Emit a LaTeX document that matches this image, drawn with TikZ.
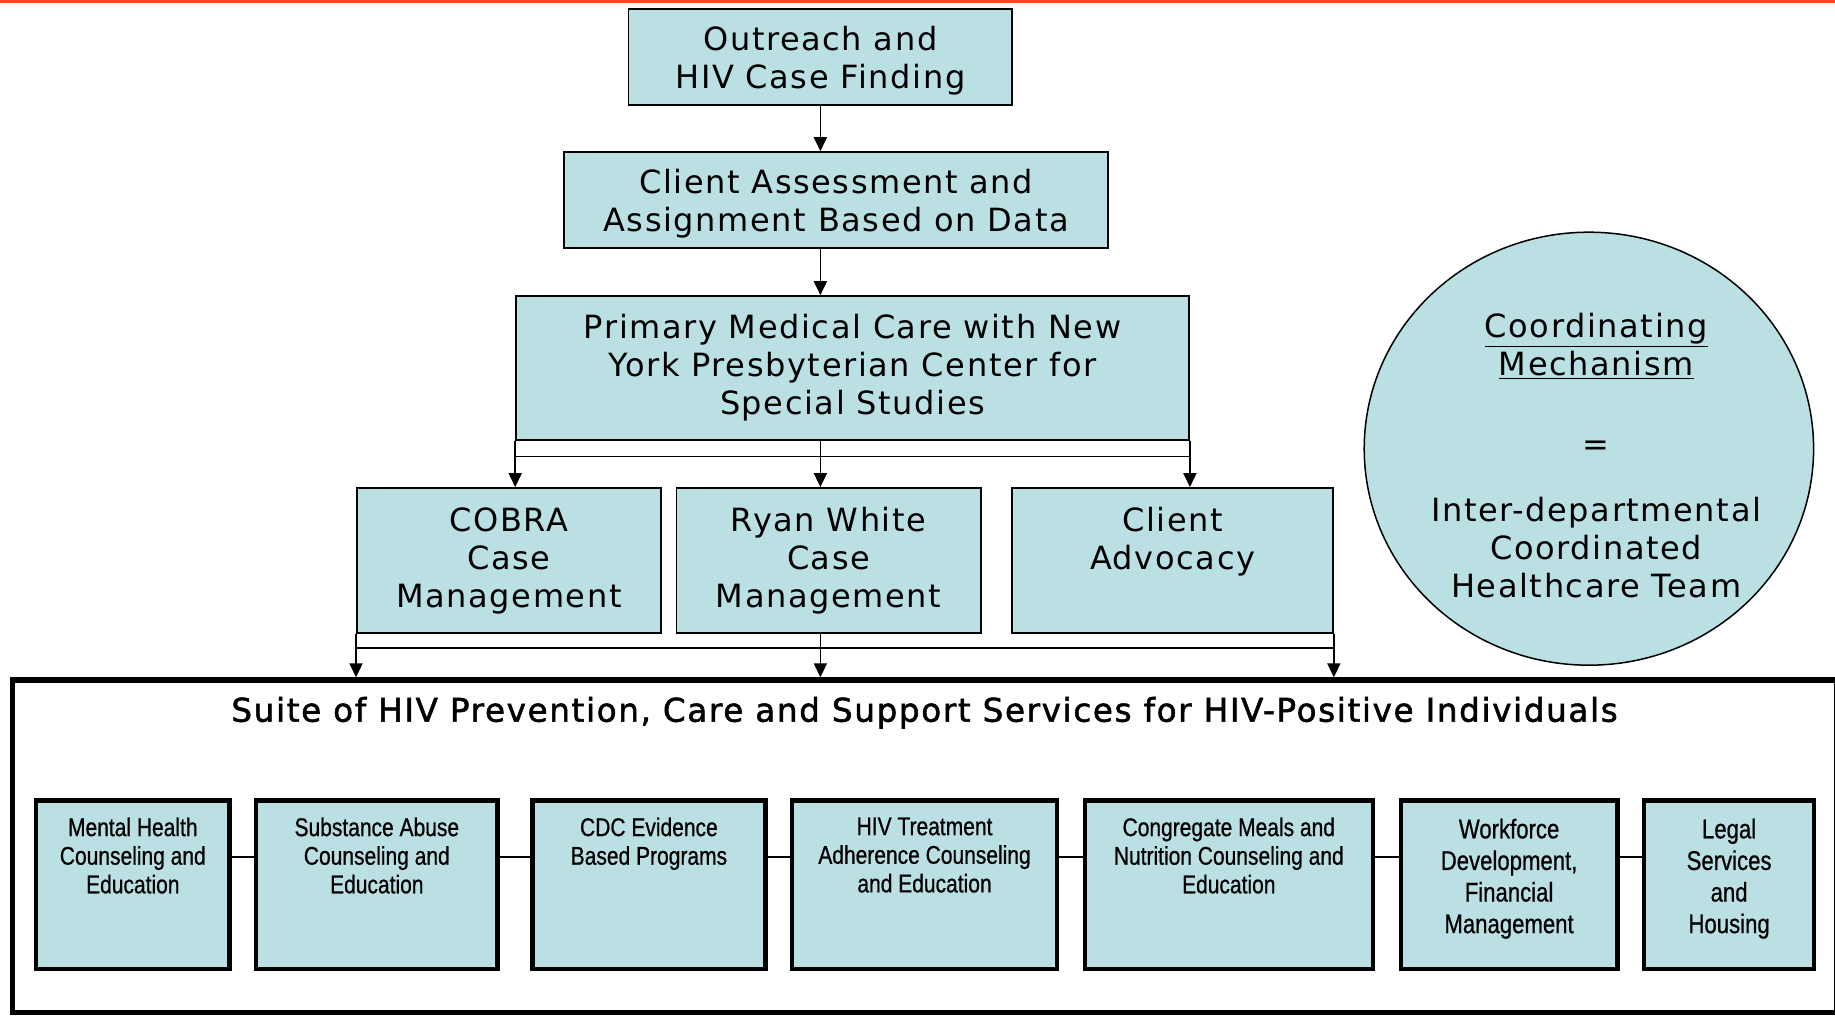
\documentclass[tikz,border=0pt]{standalone}
\usepackage{fontspec}
\newfontfamily\boxfont[LetterSpace=5]{DejaVu Sans}
\newfontfamily\titlefont[LetterSpace=5,FakeBold=1.6]{DejaVu Sans}
\newfontfamily\narrowfont[FakeStretch=0.82,FakeBold=0.7]{Liberation Sans}
\usetikzlibrary{arrows.meta,shapes.geometric}
\definecolor{boxfill}{RGB}{187,224,227}
\definecolor{topline}{RGB}{250,70,20}
\newcommand\pxu{0.585pt}

\begin{document}
\begin{tikzpicture}[x=0.585pt,y=-0.585pt,>={Triangle[length=7pt,width=6.5pt]},line width=0.85pt]
\tikzstyle{flowbox}=[draw=black,fill=boxfill,line width=0.9pt,align=center,inner sep=0pt,font=\boxfont\fontsize{16}{19}\selectfont]
\tikzstyle{svcbox}=[draw=black,fill=boxfill,line width=2.2pt,minimum height=144*\pxu,inner sep=0pt]
\tikzstyle{svctext}=[anchor=north,align=center,inner sep=0pt,yshift=-9.2pt,font=\narrowfont\fontsize{12.8}{14.3}\selectfont]
\tikzstyle{svcbig}=[anchor=north,align=center,inner sep=0pt,yshift=-9.8pt,font=\narrowfont\fontsize{13.5}{15.8}\selectfont]
\useasboundingbox (0,0) rectangle (1568,868);
\draw[topline,line width=1.6pt] (0,1) -- (1568,1);

% main flow
\node[flowbox,text depth=0pt,minimum width=328*\pxu,minimum height=82*\pxu] (outreach) at (701,49) {Outreach and\\HIV Case Finding};
\node[flowbox,text depth=0pt,minimum width=465*\pxu,minimum height=82*\pxu] (assess) at (714.5,171) {Client Assessment and\\Assignment Based on Data};
\node[flowbox,minimum width=575*\pxu,minimum height=123*\pxu] (prim) at (728.5,314.5) {Primary Medical Care with New\\York Presbyterian Center for\\Special Studies};
\node[flowbox,minimum width=260*\pxu,minimum height=124*\pxu] (cobra) at (435,479) {COBRA\\Case\\Management};
\node[flowbox,minimum width=260*\pxu,minimum height=124*\pxu] (ryan) at (708,479) {Ryan White\\Case\\Management};
\node[flowbox,minimum width=274*\pxu,minimum height=124*\pxu] (client) at (1002,479) {Client\\Advocacy\\\vphantom{Mg}};

% coordinating mechanism
\node[ellipse,draw=black,fill=boxfill,line width=0.75pt,minimum width=384*\pxu,minimum height=370*\pxu,inner sep=0pt] (coord) at (1357.7,383.4) {};
\node[align=center,font=\boxfont\fontsize{16}{19}\selectfont] (coordtxt) at (1364,389) {\underline{Coordinating}\\\underline{Mechanism}\\[21pt]=\\[14pt]Inter-departmental\\Coordinated\\Healthcare Team};

% services suite
\node[draw=black,line width=2.6pt,minimum width=1558.5*\pxu,minimum height=284.5*\pxu,inner sep=0pt] (suite) at (790.25,723.25) {};
\node[font=\titlefont\fontsize{16.3}{19}\selectfont] (suitetitle) at (790,609) {Suite of HIV Prevention, Care and Support Services for HIV-Positive Individuals};

\foreach \n/\cx/\w/\st/\txt in {
  s1/113.5/165/svctext/{Mental Health\\Counseling and\\Education},
  s2/322/206/svctext/{Substance Abuse\\Counseling and\\Education},
  s3/554.5/199/svctext/{CDC Evidence\\Based Programs},
  s4/790/226/svctext/{HIV Treatment\\Adherence Counseling\\and Education},
  s5/1050/246/svctext/{Congregate Meals and\\Nutrition Counseling and\\Education},
  s6/1289.5/185/svcbig/{Workforce\\Development,\\Financial\\Management},
  s7/1477.5/145/svcbig/{Legal\\Services\\and\\Housing}}{
  \node[svcbox,minimum width=\w*\pxu] (\n) at (\cx,756) {};
  \node[\st] (\n-txt) at (\n.north) {\txt};
}
\foreach \a/\b in {s1/s2,s2/s3,s3/s4,s4/s5,s5/s6,s6/s7}
  \draw ([yshift=14pt]\a.east) -- ([yshift=14pt]\b.west);

% connectors
\coordinate (bus1) at (0,390);
\coordinate (bus2) at (0,554);
\draw[->] (outreach.south) -- (outreach.south |- assess.north);
\draw[->] (outreach.south |- assess.south) -- (outreach.south |- prim.north);
\draw (prim.south west |- bus1) -- (prim.south east |- bus1);
\draw[->] (prim.south west) -- (prim.south west |- cobra.north);
\draw[->] (outreach.south |- prim.south) -- (outreach.south |- ryan.north);
\draw[->] (prim.south east) -- (prim.south east |- client.north);
\draw (cobra.south west |- bus2) -- (client.south east |- bus2);
\draw[->] (cobra.south west) -- (cobra.south west |- suite.north);
\draw[->] (outreach.south |- ryan.south) -- (outreach.south |- suite.north);
\draw[->] (client.south east) -- (client.south east |- suite.north);
\end{tikzpicture}
\end{document}
